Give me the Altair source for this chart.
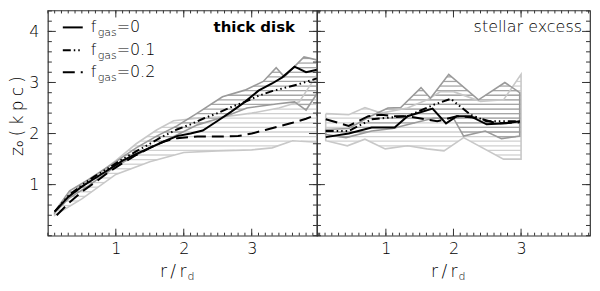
import altair as alt
import numpy as np
import pandas as pd

# ---------------- data ----------------
XTICKS = [1, 2, 3]
YTICKS = [1, 2, 3, 4]

# Left panel: thick disk
L_SOLID_X = [0.1, 0.3, 0.5, 0.7, 0.9, 1.1, 1.3, 1.5, 1.7, 1.9, 2.1, 2.28, 2.5, 2.7, 2.9, 3.1, 3.3, 3.45, 3.63, 3.8, 3.96]
L_SOLID_Y = [0.47, 0.76, 0.96, 1.13, 1.3, 1.47, 1.6, 1.72, 1.84, 1.95, 2.0, 2.06, 2.25, 2.43, 2.62, 2.84, 2.98, 3.1, 3.31, 3.2, 3.25]
L_DDOT_X = [0.1, 0.3, 0.5, 0.7, 0.9, 1.1, 1.3, 1.5, 1.7, 1.9, 2.1, 2.3, 2.5, 2.7, 2.9, 3.1, 3.3, 3.5, 3.7, 3.96]
L_DDOT_Y = [0.47, 0.78, 0.99, 1.17, 1.33, 1.5, 1.65, 1.8, 1.95, 2.08, 2.18, 2.3, 2.4, 2.52, 2.62, 2.74, 2.83, 2.9, 2.97, 3.08]
L_DASH_X = [0.13, 0.3, 0.5, 0.7, 0.9, 1.1, 1.3, 1.5, 1.7, 1.9, 2.2, 2.5, 2.8, 3.0, 3.2, 3.4, 3.6, 3.8, 3.96]
L_DASH_Y = [0.4, 0.63, 0.86, 1.05, 1.25, 1.42, 1.58, 1.72, 1.84, 1.91, 1.94, 1.94, 1.95, 2.0, 2.07, 2.14, 2.21, 2.29, 2.37]

L_DARK_UP_X = [0.1, 0.32, 0.6, 1.0, 1.3, 1.6, 1.9, 2.2, 2.57, 2.9, 3.17, 3.36, 3.48, 3.77, 3.96]
L_DARK_UP_Y = [0.47, 0.88, 1.1, 1.45, 1.72, 1.95, 2.15, 2.4, 2.72, 2.85, 3.02, 3.29, 3.11, 3.5, 3.44]
L_DARK_LO_X = [0.1, 0.3, 0.6, 1.0, 1.3, 1.6, 1.9, 2.2, 2.6, 2.93, 3.36, 3.63, 3.8, 3.96]
L_DARK_LO_Y = [0.45, 0.72, 0.98, 1.36, 1.58, 1.78, 1.97, 2.17, 2.33, 2.5, 2.58, 2.62, 2.46, 2.78]
L_LIGHT_UP_X = [0.1, 0.3, 0.6, 1.0, 1.3, 1.6, 1.85, 2.2, 2.6, 3.0, 3.4, 3.7, 3.96]
L_LIGHT_UP_Y = [0.45, 0.8, 1.07, 1.47, 1.8, 2.07, 2.25, 2.3, 2.33, 2.4, 2.5, 2.62, 3.15]
L_LIGHT_LO_X = [0.1, 0.5, 1.0, 1.5, 2.0, 2.5, 3.0, 3.3, 3.6, 3.96]
L_LIGHT_LO_Y = [0.4, 0.72, 1.2, 1.45, 1.63, 1.66, 1.68, 1.72, 1.86, 1.83]

# Right panel: stellar excess
R_SOLID_X = [0.11, 0.45, 0.79, 1.13, 1.32, 1.69, 1.89, 2.05, 2.25, 2.49, 2.78, 2.98]
R_SOLID_Y = [1.93, 2.0, 2.12, 2.12, 2.34, 2.49, 2.2, 2.34, 2.34, 2.18, 2.2, 2.24]
R_DDOT_X = [0.11, 0.45, 0.79, 1.03, 1.32, 1.72, 1.96, 2.25, 2.49, 2.98]
R_DDOT_Y = [2.05, 2.05, 2.28, 2.31, 2.34, 2.57, 2.68, 2.37, 2.24, 2.24]
R_DASH_X = [0.11, 0.45, 0.74, 0.93, 1.13, 1.32, 1.76, 2.05, 2.35, 2.64, 2.98]
R_DASH_Y = [2.28, 2.15, 2.34, 2.37, 2.34, 2.34, 2.24, 2.34, 2.31, 2.2, 2.22]

R_DARK_UP_X = [0.11, 0.45, 0.79, 1.03, 1.22, 1.52, 1.66, 1.93, 2.37, 2.76, 2.98]
R_DARK_UP_Y = [2.08, 2.1, 2.35, 2.5, 2.51, 2.9, 2.69, 3.16, 2.66, 3.0, 2.8]
R_DARK_LO_X = [0.11, 0.41, 0.79, 1.1, 1.4, 1.7, 2.0, 2.15, 2.47, 2.71, 2.98]
R_DARK_LO_Y = [1.98, 1.92, 2.05, 2.1, 2.2, 2.3, 2.3, 1.95, 2.05, 1.9, 1.95]
R_LIGHT_UP_X = [0.11, 0.45, 0.69, 0.93, 1.32, 1.61, 1.81, 2.0, 2.4, 2.74, 3.0]
R_LIGHT_UP_Y = [2.39, 2.37, 2.51, 2.4, 2.5, 2.66, 2.82, 2.82, 2.63, 2.66, 3.16]
R_LIGHT_LO_X = [0.11, 0.43, 0.69, 0.99, 1.32, 1.61, 1.86, 2.15, 2.74, 3.0]
R_LIGHT_LO_Y = [1.86, 1.76, 1.89, 1.7, 1.76, 1.7, 1.66, 1.92, 1.5, 1.5]

# ---------------- styling ----------------
FONT = "DejaVu Sans"
FW = 200
TXT = "#000"
H = 226
W_LEFT = 270
W_RIGHT = 274
YDOM = [0, 4.41]
DARK = "#9a9a9a"
LIGHT = "#c8c8c8"
DARK_H = "#a6a6a6"
LIGHT_H = "#d0d0d0"
HATCH_LEVELS = np.arange(0.05, 4.4, 0.09)
DDOT = [8, 3, 1.5, 3, 1.5, 3, 1.5, 3]
DASH = [12, 6]
TS = "\u2009"
SP = "\u2005"


def line_df(xs, ys):
    return pd.DataFrame({"x": xs, "y": ys, "o": range(len(xs))})


def outline_df(ux, uy, lx, ly):
    xs = list(ux) + list(lx)[::-1] + [ux[0]]
    ys = list(uy) + list(ly)[::-1] + [uy[0]]
    return pd.DataFrame({"x": xs, "y": ys, "o": range(len(xs))})


def hatch_df(ux, uy, lx, ly):
    xs = np.arange(max(ux[0], lx[0]), min(ux[-1], lx[-1]) + 1e-9, 0.002)
    up = np.interp(xs, ux, uy)
    lo = np.interp(xs, lx, ly)
    rows = []
    for lev in HATCH_LEVELS:
        m = (lo <= lev) & (up >= lev)
        if not m.any():
            continue
        idx = np.flatnonzero(m)
        br = np.flatnonzero(np.diff(idx) > 1)
        starts = np.r_[idx[0], idx[br + 1]]
        ends = np.r_[idx[br], idx[-1]]
        for s, e in zip(starts, ends):
            rows.append({"x0": xs[s], "x1": xs[e], "y": float(lev)})
    return pd.DataFrame(rows)


ONE = pd.DataFrame({"a": [0]})


def txt(text, x, y, size, align="left", baseline="middle", weight=FW, angle=None):
    kw = dict(text=text, font=FONT, fontSize=size, fontWeight=weight, align=align,
              baseline=baseline, color=TXT)
    if angle is not None:
        kw["angle"] = angle
    return alt.Chart(ONE).mark_text(**kw).encode(x=alt.value(x), y=alt.value(y))


def panel(W, xdom, show_y, solid, ddot, dash, dark_up, dark_lo, light_up, light_lo,
          label, label_x, label_weight, label_size, legend):
    xs = alt.Scale(domain=xdom, nice=False, zero=False)
    ys = alt.Scale(domain=YDOM, nice=False, zero=False)
    xaxis = alt.Axis(values=XTICKS, title=None, labelPadding=5, format="d")
    yaxis = alt.Axis(values=YTICKS, title=None, labelPadding=9, format="d") if show_y else None

    def X(f):
        return alt.X(f, type="quantitative", scale=xs, axis=xaxis)

    def Y(f):
        return alt.Y(f, type="quantitative", scale=ys, axis=yaxis)

    layers = []
    for (ux, uy, lx, ly), col in (((light_up[0], light_up[1], light_lo[0], light_lo[1]), LIGHT_H),
                                  ((dark_up[0], dark_up[1], dark_lo[0], dark_lo[1]), DARK_H)):
        layers.append(alt.Chart(hatch_df(ux, uy, lx, ly)).mark_rule(color=col, strokeWidth=1.3)
                      .encode(x=X("x0"), x2="x1", y=Y("y")))
    for (ux, uy, lx, ly), col in (((light_up[0], light_up[1], light_lo[0], light_lo[1]), LIGHT),
                                  ((dark_up[0], dark_up[1], dark_lo[0], dark_lo[1]), DARK)):
        layers.append(alt.Chart(outline_df(ux, uy, lx, ly)).mark_line(color=col, strokeWidth=1.6)
                      .encode(x=X("x"), y=Y("y"), order="o:Q"))
    layers.append(alt.Chart(line_df(*dash)).mark_line(color="black", strokeWidth=2, strokeDash=DASH)
                  .encode(x=X("x"), y=Y("y"), order="o:Q"))
    layers.append(alt.Chart(line_df(*ddot)).mark_line(color="black", strokeWidth=2, strokeDash=DDOT)
                  .encode(x=X("x"), y=Y("y"), order="o:Q"))
    layers.append(alt.Chart(line_df(*solid)).mark_line(color="black", strokeWidth=2)
                  .encode(x=X("x"), y=Y("y"), order="o:Q"))

    # inward ticks on all four sides
    xminor = pd.DataFrame({"v": np.round(np.arange(0, 4.001, 0.1), 2)})
    xmajor = pd.DataFrame({"v": XTICKS})
    yminor = pd.DataFrame({"v": np.round(np.arange(0, 4.41, 0.2), 2)})
    ymajor = pd.DataFrame({"v": YTICKS})
    for df, ln in ((xminor, 3), (xmajor, 7)):
        layers.append(alt.Chart(df).mark_rule(color="#333", strokeWidth=1)
                      .encode(x=X("v"), y=alt.value(H), y2=alt.value(H - ln)))
        layers.append(alt.Chart(df).mark_rule(color="#333", strokeWidth=1)
                      .encode(x=X("v"), y=alt.value(0), y2=alt.value(ln)))
    for df, ln in ((yminor, 4), (ymajor, 8)):
        layers.append(alt.Chart(df).mark_rule(color="#333", strokeWidth=1)
                      .encode(y=Y("v"), x=alt.value(0), x2=alt.value(ln)))
        layers.append(alt.Chart(df).mark_rule(color="#333", strokeWidth=1)
                      .encode(y=Y("v"), x=alt.value(W), x2=alt.value(W - ln)))

    # panel label
    layers.append(txt(label, label_x, 17, label_size, align="right", weight=label_weight))
    # x-axis title r/r_d
    cx = W / 2
    layers.append(txt("r" + TS + "/" + TS + "r", cx + 4, H + 41, 17, align="right", baseline="alphabetic"))
    layers.append(txt("d", cx + 5, H + 44, 11, align="left", baseline="alphabetic"))
    if show_y:
        ytitle = "z\u2080" + SP + "(" + SP + "k" + SP + "p" + SP + "c" + SP + ")"
        layers.append(txt(ytitle, -29.5, 106, 17, align="center", angle=270))
    if legend:
        rows = [("0", None, 17), ("0.1", DDOT, 40), ("0.2", DASH, 62)]
        for val, pat, yy in rows:
            kw = {"strokeDash": pat} if pat else {}
            layers.append(alt.Chart(ONE).mark_rule(color="black", strokeWidth=2, **kw)
                          .encode(x=alt.value(15), x2=alt.value(35), y=alt.value(yy)))
            layers.append(txt("f", 43, yy, 16))
            layers.append(txt("gas", 50, yy + 6, 11))
            layers.append(txt("=" + val, 69, yy, 16))

    return alt.layer(*layers).properties(width=W, height=H)


left = panel(W_LEFT, [0, 3.96], True,
             (L_SOLID_X, L_SOLID_Y), (L_DDOT_X, L_DDOT_Y), (L_DASH_X, L_DASH_Y),
             (L_DARK_UP_X, L_DARK_UP_Y), (L_DARK_LO_X, L_DARK_LO_Y),
             (L_LIGHT_UP_X, L_LIGHT_UP_Y), (L_LIGHT_LO_X, L_LIGHT_LO_Y),
             "thick disk", 248, "bold", 15, True)
right = panel(W_RIGHT, [-0.02, 4.02], False,
              (R_SOLID_X, R_SOLID_Y), (R_DDOT_X, R_DDOT_Y), (R_DASH_X, R_DASH_Y),
              (R_DARK_UP_X, R_DARK_UP_Y), (R_DARK_LO_X, R_DARK_LO_Y),
              (R_LIGHT_UP_X, R_LIGHT_UP_Y), (R_LIGHT_LO_X, R_LIGHT_LO_Y),
              "stellar excess", 266, FW, 16, False)

chart = alt.hconcat(left, right, spacing=0, bounds="flush").properties(
    padding=0, background="white"
).configure_view(stroke="#333", strokeWidth=1.2).configure_axis(
    ticks=False, domain=False, grid=False, labelFont=FONT, labelFontSize=16,
    labelFontWeight=FW, labelColor=TXT
)

chart.save("out.html", embed_options={"renderer": "svg", "actions": False})
